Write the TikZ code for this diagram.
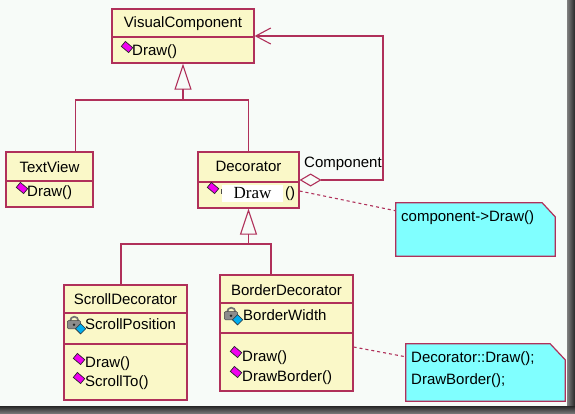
\documentclass[tikz,border=0pt]{standalone}
\usepackage{fontspec}
\setmainfont{Liberation Sans}
\newfontfamily\serifdraw{Liberation Serif}
\usetikzlibrary{arrows.meta,calc}
\definecolor{edge}{RGB}{176,48,90}
\definecolor{clsfill}{RGB}{250,248,200}
\definecolor{notefill}{RGB}{128,255,255}
\definecolor{bg}{RGB}{247,251,248}
\definecolor{methpink}{RGB}{240,0,240}
\begin{document}
\begin{tikzpicture}[x=1pt,y=-1pt,
  cls/.style={draw=edge, fill=clsfill, line width=1.2pt, inner sep=0pt},
  divider/.style={draw=edge, line width=1.2pt},
  txt/.style={inner sep=0pt, font=\fontsize{15}{18}\selectfont, text=black, text height=11pt, text depth=3pt},
  conn/.style={draw=edge, line width=1.1pt},
  inhtip/.style={-{Triangle[open, length=26pt, width=17pt]}},
  dotline/.style={draw=edge, line width=1.1pt, dash pattern=on 3pt off 3pt},
  notebox/.style={inner sep=0pt},
  notestyle/.style={draw=edge, fill=notefill, line width=1.2pt},
  meth/.pic={\filldraw[fill=methpink, draw=black!85, line width=0.7pt, rotate=-40] (-4.8,-3.2) rectangle (4.8,3.2);},
  lockic/.pic={
    \begin{scope}[scale=1.15]
    \draw[black!55, line width=1.7pt] (-5,-2) arc[start angle=180, end angle=360, radius=3.5];
    \filldraw[fill=black!45, draw=black!75, line width=0.5pt, rounded corners=1pt] (-7.5,-2) rectangle (4,5);
    \fill[black!85] (-1.8,1.5) circle (1.2);
    \filldraw[fill=cyan, draw=black!80, line width=0.6pt] (4,0.5) -- (8.5,5) -- (4,9.5) -- (-0.5,5) -- cycle;
    \end{scope}}
]
\useasboundingbox (0,0) rectangle (575,413);
\fill[bg] (0,0) rectangle (575,413);
\shade[left color=black!50, right color=black!85] (567,0) rectangle (575,413);
\shade[top color=black!85, bottom color=black!55] (0,406) rectangle (575,413);

% VisualComponent
\node[cls, minimum width=142pt, minimum height=54pt] (vc) at (183,36) {};
\draw[divider] (112,37) -- (254,37);
\node[txt] (vcname) at (183,23) {VisualComponent};
\pic at (127,47) {meth};
\node[txt, anchor=west] (vcdraw) at (132,51) {Draw()};

% TextView
\node[cls, minimum width=87pt, minimum height=55pt] (tv) at (49.5,179.5) {};
\draw[divider] (6,181) -- (93,181);
\node[txt] (tvname) at (49.5,168) {TextView};
\pic at (22,188) {meth};
\node[txt, anchor=west] (tvdraw) at (27,192) {Draw()};

% Decorator
\node[cls, minimum width=101pt, minimum height=56pt] (dec) at (248.5,180) {};
\draw[divider] (198,182) -- (299,182);
\node[txt] (decname) at (248.5,167) {Decorator};
\pic at (213,188) {meth};
\fill[black!70] (220.5,189) rectangle (222.5,194);
\node[fill=white, inner sep=0pt, minimum width=61pt, minimum height=17pt, font=\serifdraw\fontsize{17}{19}\selectfont] (decdraw) at (252.5,193.5) {Draw};
\node[txt] (decparen) at (290,193) {()};

% ScrollDecorator
\node[cls, minimum width=123pt, minimum height=115pt] (sd) at (125.5,342.5) {};
\draw[divider] (64,313) -- (187,313);
\draw[divider] (64,344) -- (187,344);
\node[txt] (sdname) at (125.5,300) {ScrollDecorator};
\pic at (76,323) {lockic};
\node[txt, anchor=west] (sdpos) at (85,325) {ScrollPosition};
\pic at (79,359) {meth};
\node[txt, anchor=west] (sddraw) at (85,363) {Draw()};
\pic at (79,378) {meth};
\node[txt, anchor=west] (sdscroll) at (85,382) {ScrollTo()};

% BorderDecorator
\node[cls, minimum width=133pt, minimum height=116pt] (bd) at (286.5,333) {};
\draw[divider] (220,303) -- (353,303);
\draw[divider] (220,333) -- (353,333);
\node[txt] (bdname) at (286.5,291) {BorderDecorator};
\pic at (233,314) {lockic};
\node[txt, anchor=west] (bdwidth) at (243,316) {BorderWidth};
\pic at (236,352) {meth};
\node[txt, anchor=west] (bddraw) at (242,357) {Draw()};
\pic at (236,372) {meth};
\node[txt, anchor=west] (bdborder) at (242,377) {DrawBorder()};

% Notes
\node[notebox, minimum width=159pt, minimum height=53pt] (n1) at (475.5,229.5) {};
\filldraw[notestyle] (n1.south west) -- (n1.north west) -- ([xshift=-13pt]n1.north east) -- ([yshift=-14pt]n1.north east) -- (n1.south east) -- cycle;
\node[txt, anchor=west] (n1t) at (401,217) {component->Draw()};

\node[notebox, minimum width=159pt, minimum height=57pt] (n2) at (485.5,372.5) {};
\filldraw[notestyle] (n2.south west) -- (n2.north west) -- ([xshift=-15pt]n2.north east) -- ([yshift=-16pt]n2.north east) -- (n2.south east) -- cycle;
\node[txt, anchor=west] (n2a) at (411,358) {Decorator::Draw();};
\node[txt, anchor=west] (n2b) at (411,380) {DrawBorder();};

% Connectors
\coordinate (j1) at (183,100);
\draw[conn] ([xshift=-18.5pt]tv.north east) |- (j1) -| (dec.north);
\draw[conn, inhtip] (j1) -- (vc.south);

\coordinate (j2) at (248.5,244);
\draw[conn] ([xshift=-4.5pt]sd.north) |- (j2) -| ([xshift=-15.5pt]bd.north);
\draw[conn, inhtip] (j2) -- (dec.south);

\coordinate (aggc) at (383,110);
\draw[conn, {Diamond[open, length=22pt, width=13pt]}-{Straight Barb[length=15pt, width=16pt]}] (dec.east) -| (aggc) |- (vc.east);
\node[txt, anchor=west] (complbl) at (304,163) {Component};

\draw[dotline] ([yshift=-11pt]dec.east) -- ([yshift=-8pt]n1.north west);
\draw[dotline] ([yshift=-14pt]bd.east) -- ([yshift=-13pt]n2.north west);
\end{tikzpicture}
\end{document}
